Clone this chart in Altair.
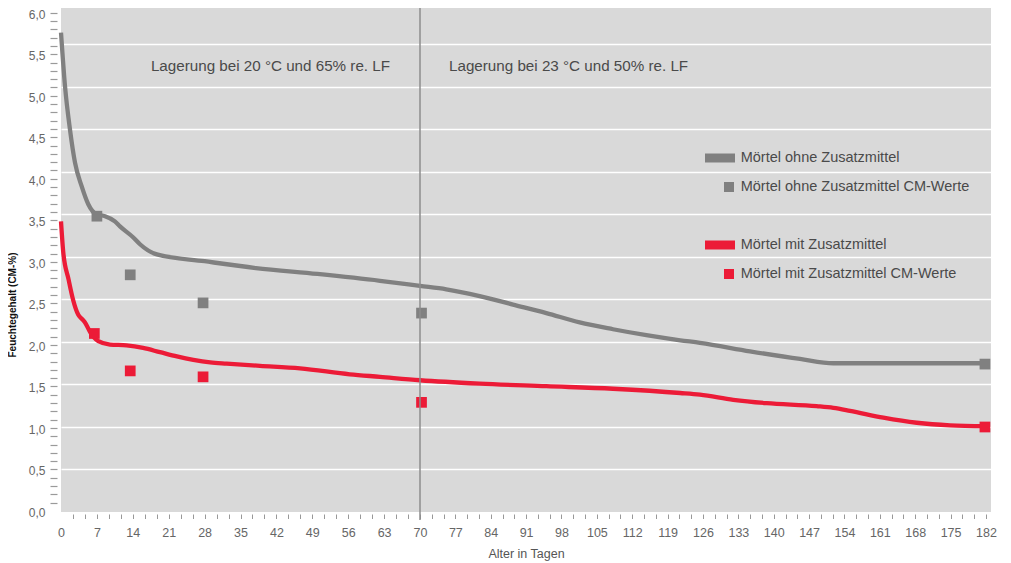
import altair as alt
import pandas as pd

# ---------------- data ----------------
days_ohne = [0, 0.78, 1.75, 2.73, 4.04, 5.32, 6.96, 8.58, 10.5, 11.5, 14.1, 15.4, 18.7,
             28, 38, 50, 62.2, 70, 75.2, 81.8, 88.4, 95, 101.6, 108.2, 114.8, 121.5,
             125.4, 135.3, 145.2, 151.8, 182]
vals_ohne = [5.64, 5.01, 4.50, 4.11, 3.83, 3.62, 3.50, 3.48, 3.42, 3.36, 3.23, 3.15, 3.03,
             2.95, 2.87, 2.80, 2.72, 2.66, 2.62, 2.54, 2.44, 2.34, 2.23, 2.15, 2.08, 2.02,
             1.99, 1.89, 1.80, 1.75, 1.75]

days_mit = [0, 0.45, 1.46, 2.34, 3.37, 4.1, 4.68, 5.65, 7.27, 9.55, 12.8, 16.0, 19.3, 22.6,
            25.8, 29.1, 32.3, 38.8, 46.6, 56.3, 62.2, 70, 81.8, 95.0, 108.2, 121.5, 125.4,
            132, 138.6, 148.5, 151.8, 155.1, 161.7, 168.3, 174.9, 182]
vals_mit = [3.42, 3.05, 2.74, 2.50, 2.32, 2.27, 2.23, 2.12, 2.01, 1.97, 1.96, 1.93, 1.88, 1.83,
            1.79, 1.76, 1.745, 1.72, 1.69, 1.62, 1.59, 1.55, 1.51, 1.48, 1.45, 1.40, 1.38,
            1.32, 1.28, 1.245, 1.225, 1.19, 1.11, 1.05, 1.02, 1.01]

cm_days_ohne = [7.0, 13.5, 27.7, 70.3, 181.8]
cm_vals_ohne = [3.48, 2.79, 2.46, 2.34, 1.74]
cm_days_mit = [6.5, 13.5, 27.7, 70.3, 181.8]
cm_vals_mit = [2.10, 1.66, 1.59, 1.29, 1.00]

series_names = ["Mörtel ohne Zusatzmittel", "Mörtel ohne Zusatzmittel CM-Werte", "spacer",
                "Mörtel mit Zusatzmittel", "Mörtel mit Zusatzmittel CM-Werte"]
phase_labels = ["Lagerung bei 20 °C und 65% re. LF", "Lagerung bei 23 °C und 50% re. LF"]
phase_boundary = 70
phase_label_y = 5.25
x_title = "Alter in Tagen"
y_title = "Feuchtegehalt (CM-%)"

x_tick_days = [round(k * 7 / 3, 4) for k in range(0, 79)]
y_tick_vals = [round(k / 10, 1) for k in range(0, 61)]
y_grid_vals = [round(k / 2, 1) for k in range(1, 12)]

# ---------------- styles ----------------
GREY = "#808080"
RED = "#ec1b37"
BG = "#d9d9d9"
FONT = "Liberation Sans"

lines_df = pd.concat([
    pd.DataFrame({"day": days_ohne, "value": vals_ohne, "entry": series_names[0]}),
    pd.DataFrame({"day": days_mit, "value": vals_mit, "entry": series_names[3]}),
])
cm_df = pd.concat([
    pd.DataFrame({"day": cm_days_ohne, "value": cm_vals_ohne, "entry": series_names[1]}),
    pd.DataFrame({"day": cm_days_mit, "value": cm_vals_mit, "entry": series_names[4]}),
])
legend_df = pd.DataFrame({"entry": series_names})
rule_df = pd.DataFrame({"day": [phase_boundary], "value": [5.93], "bottom": [-0.094]})
text_left_df = pd.DataFrame({"day": [phase_boundary], "value": [phase_label_y], "label": [phase_labels[0]]})
text_right_df = pd.DataFrame({"day": [phase_boundary], "value": [phase_label_y], "label": [phase_labels[1]]})
ytick_df = pd.DataFrame({"tick": y_tick_vals})

BAR = "M-1.45,-0.9H4.55V0.9H-1.45Z"
SQ = "M-1.45,0M2.35,-1H4.35V1H2.35Z"

line_scale = alt.Scale(domain=[series_names[0], series_names[3]], range=[GREY, RED])
cm_scale = alt.Scale(domain=[series_names[1], series_names[4]], range=[GREY, RED])
color_scale = alt.Scale(domain=series_names, range=[GREY, GREY, "rgba(0,0,0,0)", RED, RED])
shape_scale = alt.Scale(domain=series_names, range=[BAR, SQ, BAR, BAR, SQ])
x_scale = alt.Scale(domain=[0, 70, 183], range=[0, 359, 930], nice=False, zero=False)
y_scale = alt.Scale(domain=[0, 5.929], nice=False, zero=False)
label_scale = alt.Scale(domain=[-0.012, 6.0566], nice=False, zero=False)

hide_zero_tick = {"condition": {"test": "datum.value == 0", "value": 0}, "value": 1}

x_axis = alt.Axis(
    values=x_tick_days,
    labelExpr="abs(datum.value/7 - round(datum.value/7)) < 0.001 ? format(round(datum.value), 'd') : ''",
    tickOpacity=hide_zero_tick, tickSize=4.5, tickColor="#999999", tickWidth=1, offset=2,
    domain=False, grid=False, labelPadding=8, labelColor="#666666", labelFontSize=12.5,
    labelOverlap=False, labelFlush=False, labelFont=FONT,
    title=x_title, titleFontSize=12.5, titleFontWeight="normal", titleColor="#555555",
    titlePadding=8, titleFont=FONT,
)
grid_axis = alt.Axis(orient="right", values=y_grid_vals, grid=True, gridColor="white",
                     gridWidth=1.6, gridOpacity=1, labels=False, ticks=False, domain=False,
                     title=None)
label_axis = alt.Axis(
    orient="left", values=y_tick_vals,
    labelExpr="abs(datum.value*2 - round(datum.value*2)) < 0.001 ? replace(format(datum.value, '.1f'), '.', ',') : ''",
    offset=4, tickSize=7, tickColor="#9a9a9a", tickWidth=1.2, tickOpacity=hide_zero_tick,
    labelPadding=5, labelColor="#666666", labelFontSize=12, labelFont=FONT, labelOffset=1.3,
    labelOverlap=False, domain=False, grid=False,
    title=y_title, titleFontSize=10, titleFontWeight="bold", titleColor="#111111",
    titleFont=FONT, titleX=-45, titleY=296.5, titleAngle=270, titleAlign="center",
    titleBaseline="middle",
)

legend = alt.Legend(
    title=None, orient="none", legendX=644, legendY=142.75, padding=0,
    symbolSize=100, symbolStrokeWidth=0, symbolOpacity=1,
    labelFontSize=14.5, labelColor="#4a4a4a", labelFont=FONT, labelOffset=21.2,
    labelLimit=400, rowPadding=14.0,
    labelExpr="datum.label == 'spacer' ? ' ' : datum.label",
)

X = alt.X("day:Q", scale=x_scale, axis=x_axis)
Y = alt.Y("value:Q", scale=y_scale, axis=grid_axis)

lines = alt.Chart(lines_df).mark_line(strokeWidth=4.3, interpolate="monotone").encode(
    x=X, y=Y,
    stroke=alt.Stroke("entry:N", scale=line_scale, legend=None),
)
squares = alt.Chart(cm_df).mark_square(size=115, opacity=1).encode(
    x=X, y=Y,
    fill=alt.Fill("entry:N", scale=cm_scale, legend=None),
)
rule = alt.Chart(rule_df).mark_rule(color="#8c8c8c", strokeWidth=1.5).encode(
    x=X, y=Y, y2="bottom:Q",
)
text_left = alt.Chart(text_left_df).mark_text(
    align="right", baseline="middle", dx=-30, fontSize=15.2, color="#4a4a4a", font=FONT
).encode(x=X, y=Y, text="label:N")
text_right = alt.Chart(text_right_df).mark_text(
    align="left", baseline="middle", dx=29, fontSize=15.2, color="#4a4a4a", font=FONT
).encode(x=X, y=Y, text="label:N")

inner = alt.layer(lines, squares, rule, text_left, text_right)

label_layer = alt.Chart(ytick_df).mark_point(opacity=0).encode(
    y=alt.Y("tick:Q", scale=label_scale, axis=label_axis),
)
legend_layer = alt.Chart(legend_df).mark_point(filled=True, opacity=0, size=100).encode(
    color=alt.Color("entry:N", scale=color_scale, legend=legend),
    shape=alt.Shape("entry:N", scale=shape_scale, legend=legend),
)

chart = alt.layer(inner, label_layer, legend_layer).resolve_scale(y="independent").properties(
    width=930, height=504,
    autosize=alt.AutoSizeParams(type="none"),
    padding={"left": 53, "top": 0, "right": 12, "bottom": 51},
    view=alt.ViewBackground(fill=BG, stroke="transparent", strokeWidth=0),
).configure(font=FONT, view=alt.ViewConfig(fill=BG, stroke="transparent"))

chart.save("out.html", embed_options={"renderer": "svg", "actions": False})
